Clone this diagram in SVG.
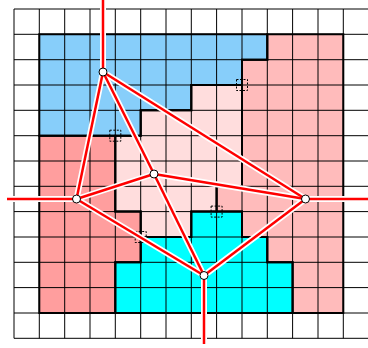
<svg xmlns="http://www.w3.org/2000/svg" width="368" height="348" viewBox="0 0 368 348">
<style>
.grid line{stroke:#000;stroke-width:1}
.reg{stroke:none}
.bd{fill:none;stroke:#000;stroke-width:2;stroke-linejoin:miter}
.mark{fill:none;stroke:#000;stroke-width:1;stroke-dasharray:2,1.5}
.halo{stroke:#fff;stroke-width:6;stroke-linecap:round;fill:none}
.edge{stroke:#f00;stroke-width:2.5;stroke-linecap:butt;fill:none}
.node{fill:#fff;stroke:#000;stroke-width:1}
</style>
<rect x="0" y="0" width="368" height="348" fill="#fff"/>
<g id="regions">
<polygon id="regionA" class="reg" fill="#87cefa" points="39.3,34.3 267.3,34.3 267.3,59.7 242,59.7 242,85 191.3,85 191.3,110.3 140.7,110.3 140.7,135.7 39.3,135.7"/>
<polygon id="regionD" class="reg" fill="#ffbbbb" points="267.3,34.3 343.3,34.3 343.3,313 292.6,313 292.6,262.3 267.3,262.3 267.3,237 242,237 242,211.6 216.6,211.6 216.6,186.3 242,186.3 242,59.7 267.3,59.7"/>
<polygon id="regionB" class="reg" fill="#ffdddd" points="191.3,85 242,85 242,186.3 216.6,186.3 216.6,211.6 191.3,211.6 191.3,237 140.7,237 140.7,211.6 115.3,211.6 115.3,135.7 140.7,135.7 140.7,110.3 191.3,110.3"/>
<polygon id="regionC" class="reg" fill="#ff9e9e" points="39.3,135.7 115.3,135.7 115.3,211.6 140.7,211.6 140.7,262.3 115.3,262.3 115.3,313 39.3,313"/>
<polygon id="regionE" class="reg" fill="#00ffff" points="191.3,211.6 242,211.6 242,237 267.3,237 267.3,262.3 292.6,262.3 292.6,313 115.3,313 115.3,262.3 140.7,262.3 140.7,237 191.3,237"/>
</g>
<g class="grid">
<line x1="14" y1="9" x2="14" y2="338.3"/>
<line x1="39.3" y1="9" x2="39.3" y2="338.3"/>
<line x1="64.7" y1="9" x2="64.7" y2="338.3"/>
<line x1="90" y1="9" x2="90" y2="338.3"/>
<line x1="115.3" y1="9" x2="115.3" y2="338.3"/>
<line x1="140.7" y1="9" x2="140.7" y2="338.3"/>
<line x1="166" y1="9" x2="166" y2="338.3"/>
<line x1="191.3" y1="9" x2="191.3" y2="338.3"/>
<line x1="216.6" y1="9" x2="216.6" y2="338.3"/>
<line x1="242" y1="9" x2="242" y2="338.3"/>
<line x1="267.3" y1="9" x2="267.3" y2="338.3"/>
<line x1="292.6" y1="9" x2="292.6" y2="338.3"/>
<line x1="318" y1="9" x2="318" y2="338.3"/>
<line x1="343.3" y1="9" x2="343.3" y2="338.3"/>
<line x1="14" y1="9" x2="368" y2="9"/>
<line x1="14" y1="34.3" x2="368" y2="34.3"/>
<line x1="14" y1="59.7" x2="368" y2="59.7"/>
<line x1="14" y1="85" x2="368" y2="85"/>
<line x1="14" y1="110.3" x2="368" y2="110.3"/>
<line x1="14" y1="135.7" x2="368" y2="135.7"/>
<line x1="14" y1="161" x2="368" y2="161"/>
<line x1="14" y1="186.3" x2="368" y2="186.3"/>
<line x1="14" y1="211.6" x2="368" y2="211.6"/>
<line x1="14" y1="237" x2="368" y2="237"/>
<line x1="14" y1="262.3" x2="368" y2="262.3"/>
<line x1="14" y1="287.6" x2="368" y2="287.6"/>
<line x1="14" y1="313" x2="368" y2="313"/>
<line x1="14" y1="338.3" x2="368" y2="338.3"/>
</g>
<g id="borders">
<polygon class="bd" points="39.3,34.3 267.3,34.3 267.3,59.7 242,59.7 242,85 191.3,85 191.3,110.3 140.7,110.3 140.7,135.7 39.3,135.7"/>
<polygon class="bd" points="267.3,34.3 343.3,34.3 343.3,313 292.6,313 292.6,262.3 267.3,262.3 267.3,237 242,237 242,211.6 216.6,211.6 216.6,186.3 242,186.3 242,59.7 267.3,59.7"/>
<polygon class="bd" points="191.3,85 242,85 242,186.3 216.6,186.3 216.6,211.6 191.3,211.6 191.3,237 140.7,237 140.7,211.6 115.3,211.6 115.3,135.7 140.7,135.7 140.7,110.3 191.3,110.3"/>
<polygon class="bd" points="39.3,135.7 115.3,135.7 115.3,211.6 140.7,211.6 140.7,262.3 115.3,262.3 115.3,313 39.3,313"/>
<polygon class="bd" points="191.3,211.6 242,211.6 242,237 267.3,237 267.3,262.3 292.6,262.3 292.6,313 115.3,313 115.3,262.3 140.7,262.3 140.7,237 191.3,237"/>
</g>
<g id="markers">
<rect class="mark" x="109.8" y="130.2" width="11" height="11"/>
<rect class="mark" x="236.5" y="79.5" width="11" height="11"/>
<rect class="mark" x="211.1" y="206.1" width="11" height="11"/>
<rect class="mark" x="135.2" y="231.5" width="11" height="11"/>
</g>
<g id="connectors">
<g class="halo">
<line x1="103" y1="72" x2="103" y2="0"/>
<line x1="76.5" y1="199" x2="7" y2="199"/>
<line x1="305.5" y1="199" x2="368" y2="199"/>
<line x1="204" y1="275.5" x2="204" y2="344"/>
<line x1="103" y1="72" x2="154" y2="174"/>
<line x1="103" y1="72" x2="76.5" y2="199"/>
<line x1="103" y1="72" x2="305.5" y2="199"/>
<line x1="154" y1="174" x2="76.5" y2="199"/>
<line x1="154" y1="174" x2="305.5" y2="199"/>
<line x1="154" y1="174" x2="204" y2="275.5"/>
<line x1="76.5" y1="199" x2="204" y2="275.5"/>
<line x1="305.5" y1="199" x2="204" y2="275.5"/>
</g>
<g class="edge">
<line x1="103" y1="72" x2="103" y2="0"/>
<line x1="76.5" y1="199" x2="7" y2="199"/>
<line x1="305.5" y1="199" x2="368" y2="199"/>
<line x1="204" y1="275.5" x2="204" y2="344"/>
<line x1="103" y1="72" x2="154" y2="174"/>
<line x1="103" y1="72" x2="76.5" y2="199"/>
<line x1="103" y1="72" x2="305.5" y2="199"/>
<line x1="154" y1="174" x2="76.5" y2="199"/>
<line x1="154" y1="174" x2="305.5" y2="199"/>
<line x1="154" y1="174" x2="204" y2="275.5"/>
<line x1="76.5" y1="199" x2="204" y2="275.5"/>
<line x1="305.5" y1="199" x2="204" y2="275.5"/>
</g>
</g>
<g id="nodeA"><circle class="node" cx="103" cy="72" r="4"/></g>
<g id="nodeB"><circle class="node" cx="154" cy="174" r="4"/></g>
<g id="nodeC"><circle class="node" cx="76.5" cy="199" r="4"/></g>
<g id="nodeD"><circle class="node" cx="305.5" cy="199" r="4"/></g>
<g id="nodeE"><circle class="node" cx="204" cy="275.5" r="4"/></g>
</svg>
